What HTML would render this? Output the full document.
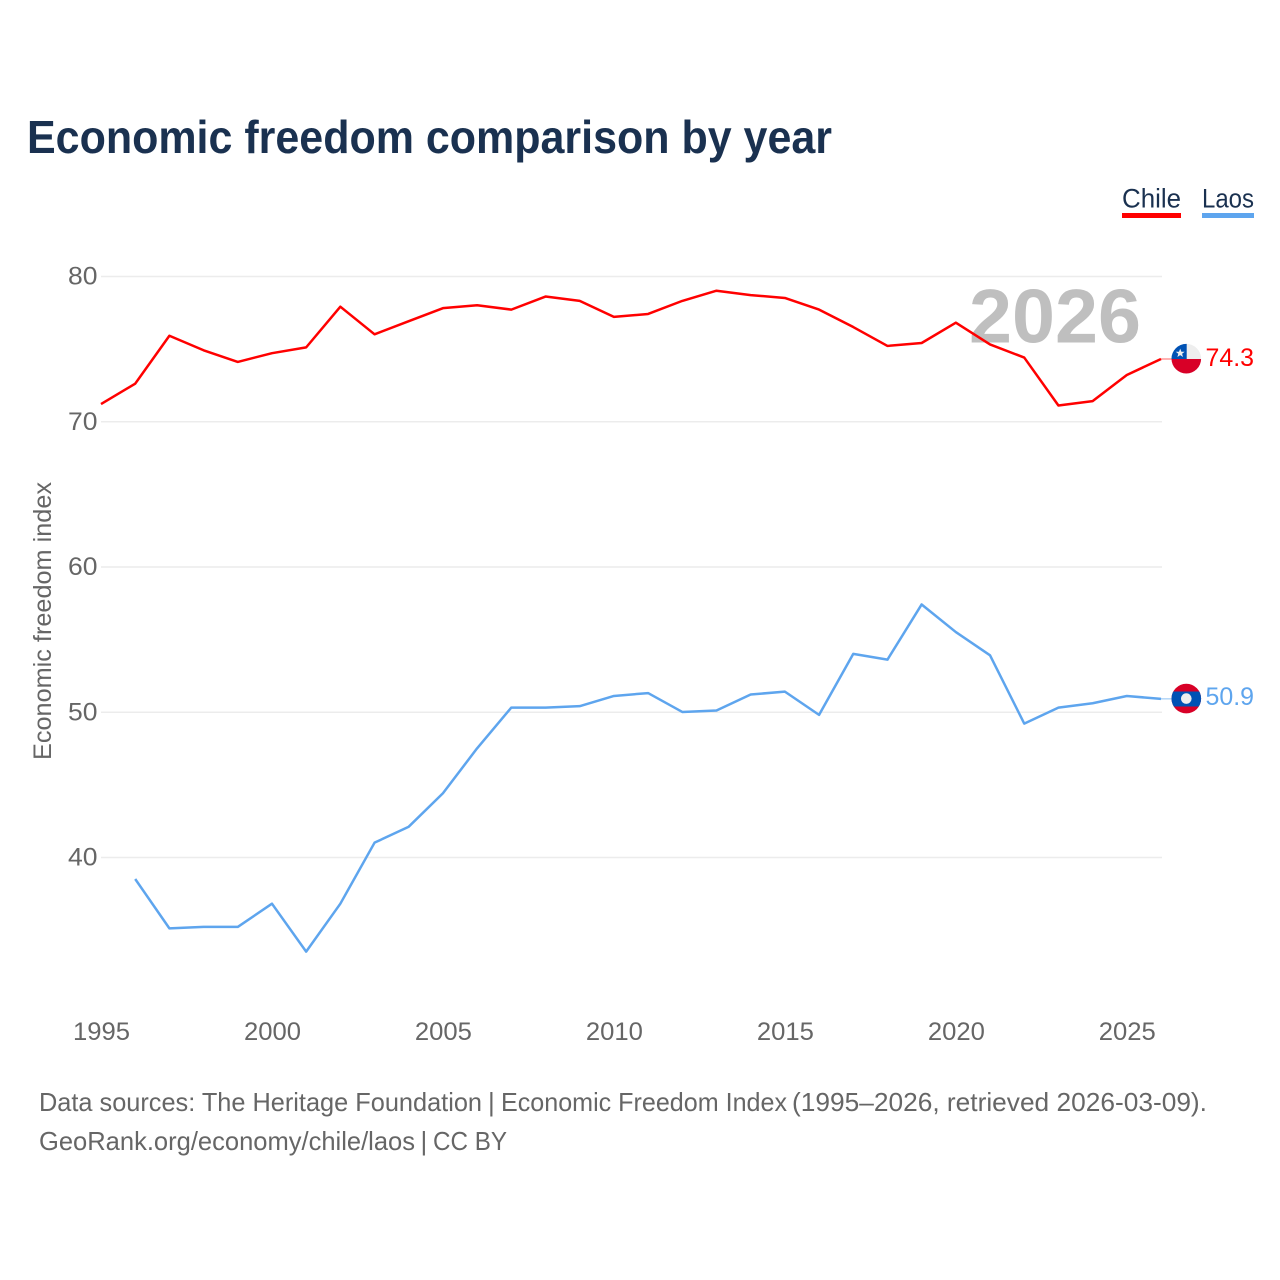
<!DOCTYPE html>
<html lang="en">
<head>
<meta charset="utf-8">
<title>Economic freedom comparison by year</title>
<style>
html,body{margin:0;padding:0;background:#fff;width:1280px;height:1280px;overflow:hidden}
svg{display:block}
text{font-family:"Liberation Sans",sans-serif}
</style>
</head>
<body>
<svg id="chart" xmlns="http://www.w3.org/2000/svg" width="1280" height="1280" viewBox="0 0 1280 1280">
  <rect width="1280" height="1280" fill="#fff"/>
  <text x="27" y="153" font-size="46" font-weight="700" fill="#1a3150" textLength="805" lengthAdjust="spacingAndGlyphs">Economic freedom comparison by year</text>

  <g>
    <g>
      <text x="1122" y="207.5" font-size="27" fill="#1a3150" textLength="59" lengthAdjust="spacingAndGlyphs">Chile</text>
      <rect x="1122" y="213" width="59" height="5" fill="#ff0000"/>
    </g>
    <g>
      <text x="1202" y="207.5" font-size="27" fill="#1a3150" textLength="52" lengthAdjust="spacingAndGlyphs">Laos</text>
      <rect x="1202" y="213" width="52" height="5" fill="#5ea5ee"/>
    </g>
  </g>

  <g id="grid"></g>
  <g id="yticks"></g>
  <g id="xticks"></g>

  <text x="969" y="342.5" font-size="76" font-weight="700" fill="#bfbfbf" textLength="172" lengthAdjust="spacingAndGlyphs">2026</text>

  <text transform="translate(51,760) rotate(-90)" font-size="25" fill="#666" textLength="278" lengthAdjust="spacingAndGlyphs">Economic freedom index</text>

  <g id="series"></g>

  <g>
    <clipPath id="clipChile"><circle cx="1186.3" cy="358.7" r="14.8"/></clipPath>
    <g clip-path="url(#clipChile)">
      <rect x="1171" y="343" width="31" height="16" fill="#eeeeee"/>
      <rect x="1171" y="343" width="15.7" height="16" fill="#0052b4"/>
      <rect x="1171" y="359" width="31" height="15" fill="#d80027"/>
      <polygon points="1180.2,348.6 1181.4,351.7 1184.7,351.7 1182.1,353.8 1183,357 1180.2,355.1 1177.4,357 1178.3,353.8 1175.7,351.7 1179,351.7" fill="#eee"/>
    </g>
  </g>
  <text id="valueChile" x="1205.5" y="366" font-size="25" fill="#ff0000" textLength="48.5" lengthAdjust="spacingAndGlyphs">74.3</text>

  <g>
    <clipPath id="clipLaos"><circle cx="1186.3" cy="698.6" r="14.8"/></clipPath>
    <g clip-path="url(#clipLaos)">
      <rect x="1171" y="683" width="31" height="31" fill="#d80027"/>
      <rect x="1171" y="691.5" width="31" height="15" fill="#0052b4"/>
      <circle cx="1186.3" cy="698.6" r="5.3" fill="#eee"/>
    </g>
  </g>
  <text id="valueLaos" x="1205.5" y="705" font-size="25" fill="#5ea5ee" textLength="48.5" lengthAdjust="spacingAndGlyphs">50.9</text>

  <g>
    <g font-size="26" fill="#666">
      <text x="39" y="1111" textLength="443" lengthAdjust="spacingAndGlyphs">Data sources: The Heritage Foundation</text>
      <text x="488" y="1111">|</text>
      <text x="501" y="1111" textLength="286" lengthAdjust="spacingAndGlyphs">Economic Freedom Index</text>
      <text x="792" y="1111" textLength="415" lengthAdjust="spacingAndGlyphs">(1995–2026, retrieved 2026-03-09).</text>
    </g>
    <g font-size="26" fill="#666">
      <text x="39" y="1150" textLength="376" lengthAdjust="spacingAndGlyphs">GeoRank.org/economy/chile/laos</text>
      <text x="420.5" y="1150">|</text>
      <text x="433" y="1150" textLength="74" lengthAdjust="spacingAndGlyphs">CC BY</text>
    </g>
  </g>
</svg>
<script>
const years = [1995,1996,1997,1998,1999,2000,2001,2002,2003,2004,2005,2006,2007,2008,2009,2010,2011,2012,2013,2014,2015,2016,2017,2018,2019,2020,2021,2022,2023,2024,2025,2026];
const chileValues = [71.2,72.6,75.9,74.9,74.1,74.7,75.1,77.9,76.0,76.9,77.8,78.0,77.7,78.6,78.3,77.2,77.4,78.3,79.0,78.7,78.5,77.7,76.5,75.2,75.4,76.8,75.3,74.4,71.1,71.4,73.2,74.3];
const laosValues = [null,38.5,35.1,35.2,35.2,36.8,33.5,36.8,41.0,42.1,44.4,47.5,50.3,50.3,50.4,51.1,51.3,50.0,50.1,51.2,51.4,49.8,54.0,53.6,57.4,55.5,53.9,49.2,50.3,50.6,51.1,50.9];
const yTickValues = [40,50,60,70,80];
const xTickValues = [1995,2000,2005,2010,2015,2020,2025];

const NS = 'http://www.w3.org/2000/svg';
const xScale = function (year) { return 101 + (year - 1995) * (1161 - 101) / 31; };
const yScale = function (value) { return 857.2 - (value - 40) * (857.2 - 276.2) / 40; };
const FLAG_LEFT = 1172;

const gridGroup = document.getElementById('grid');
const yTickGroup = document.getElementById('yticks');
const xTickGroup = document.getElementById('xticks');
const seriesGroup = document.getElementById('series');

yTickValues.forEach(function (tick) {
  const line = document.createElementNS(NS, 'line');
  
  
  line.setAttribute('x1', 101);
  line.setAttribute('x2', 1162);
  line.setAttribute('y1', yScale(tick) + 0.3);
  line.setAttribute('y2', yScale(tick) + 0.3);
  line.setAttribute('stroke', '#ececec');
  line.setAttribute('stroke-width', 1.6);
  gridGroup.appendChild(line);

  const label = document.createElementNS(NS, 'text');
  
  
  label.setAttribute('x', 68);
  label.setAttribute('y', yScale(tick) + 8.5);
  label.setAttribute('font-size', 25);
  label.setAttribute('fill', '#666');
  label.setAttribute('textLength', 29.5);
  label.setAttribute('lengthAdjust', 'spacingAndGlyphs');
  label.textContent = String(tick);
  yTickGroup.appendChild(label);
});

xTickValues.forEach(function (tick) {
  const label = document.createElementNS(NS, 'text');
  
  
  label.setAttribute('x', xScale(tick) + 0.5);
  label.setAttribute('y', 1040);
  label.setAttribute('text-anchor', 'middle');
  label.setAttribute('font-size', 25);
  label.setAttribute('fill', '#666');
  label.setAttribute('textLength', 57);
  label.setAttribute('lengthAdjust', 'spacingAndGlyphs');
  label.textContent = String(tick);
  xTickGroup.appendChild(label);
});

function pathFor(values) {
  let d = '';
  values.forEach(function (value, i) {
    if (value === null) return;
    d += (d === '' ? 'M' : 'L') + xScale(years[i]).toFixed(2) + ' ' + yScale(value).toFixed(2);
  });
  return d;
}

const chileLine = document.createElementNS(NS, 'path');


chileLine.setAttribute('d', pathFor(chileValues));
chileLine.setAttribute('fill', 'none');
chileLine.setAttribute('stroke', '#ff0000');
chileLine.setAttribute('stroke-width', 2.5);
chileLine.setAttribute('stroke-linejoin', 'round');
seriesGroup.appendChild(chileLine);

const laosLine = document.createElementNS(NS, 'path');


laosLine.setAttribute('d', pathFor(laosValues));
laosLine.setAttribute('fill', 'none');
laosLine.setAttribute('stroke', '#5ea5ee');
laosLine.setAttribute('stroke-width', 2.5);
laosLine.setAttribute('stroke-linejoin', 'round');
seriesGroup.appendChild(laosLine);

const chileEnd = chileValues[chileValues.length - 1];
const chileConnector = document.createElementNS(NS, 'line');


chileConnector.setAttribute('x1', xScale(2026));
chileConnector.setAttribute('x2', FLAG_LEFT);
chileConnector.setAttribute('y1', yScale(chileEnd));
chileConnector.setAttribute('y2', yScale(chileEnd));
chileConnector.setAttribute('stroke', '#ff0000');
chileConnector.setAttribute('stroke-opacity', 0.6);
chileConnector.setAttribute('stroke-width', 1);
seriesGroup.appendChild(chileConnector);

const laosEnd = laosValues[laosValues.length - 1];
const laosConnector = document.createElementNS(NS, 'line');


laosConnector.setAttribute('x1', xScale(2026));
laosConnector.setAttribute('x2', FLAG_LEFT);
laosConnector.setAttribute('y1', yScale(laosEnd));
laosConnector.setAttribute('y2', yScale(laosEnd));
laosConnector.setAttribute('stroke', '#5ea5ee');
laosConnector.setAttribute('stroke-opacity', 0.7);
laosConnector.setAttribute('stroke-width', 1);
seriesGroup.appendChild(laosConnector);

document.getElementById('valueChile').textContent = chileEnd.toFixed(1);
document.getElementById('valueLaos').textContent = laosEnd.toFixed(1);
</script>
</body>
</html>
